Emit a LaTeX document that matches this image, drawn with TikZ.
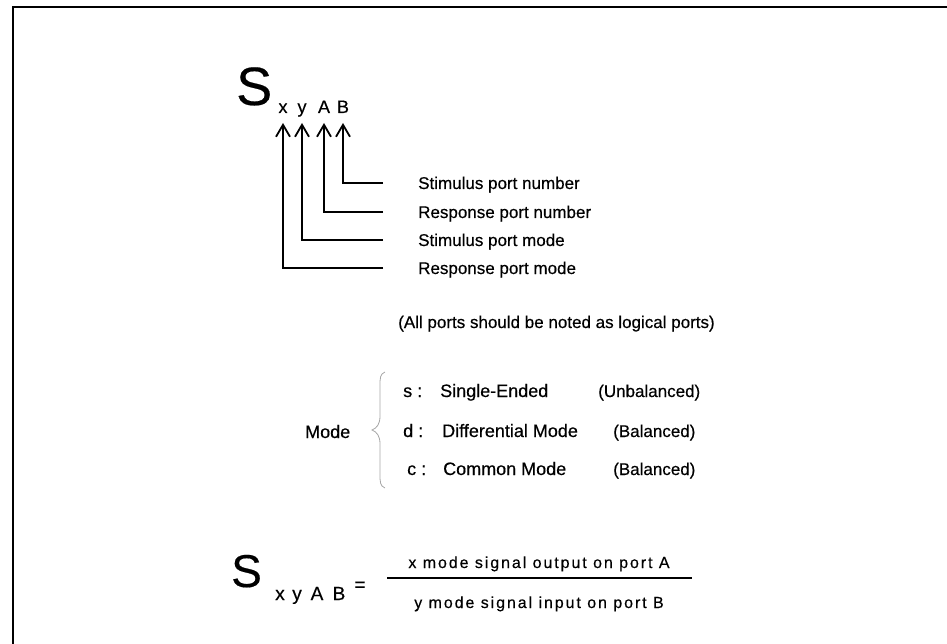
\documentclass[tikz,border=0pt]{standalone}
\usepackage{fontspec}
\setmainfont[FakeBold=0.4]{Liberation Sans}
\newfontfamily\spaced[LetterSpace=12,FakeBold=0.4]{Liberation Sans}
\usetikzlibrary{arrows.meta,positioning}

\begin{document}
\begin{tikzpicture}[
  x=1pt, y=-1pt,
  bigS/.style={inner sep=0, anchor=base west, font=\fontsize{#1}{#1}\selectfont},
  sub/.style={inner sep=0, anchor=base, font=\fontsize{#1}{#1}\selectfont},
  desc/.style={inner sep=0, anchor=west, text height=12pt, text depth=0pt, font=\fontsize{17}{20}\selectfont},
  txt/.style={inner sep=0, anchor=base west, font=\fontsize{#1}{#1}\selectfont},
  frac/.style={inner sep=0, anchor=base, font=\spaced\fontsize{16}{18}\selectfont},
  arrow/.style={-{Straight Barb[length=12pt,width=14pt]}, line width=1.8pt}
]
  \useasboundingbox (0,0) rectangle (947,644);
  \draw[line width=2.5pt] (13,644) -- (13,7) -- (947,7);

  % S parameter name
  \node[bigS=54] (S) at (236,105) {S};
  \node[sub=18] (sx) at (283,113) {x};
  \node[sub=18] (sy) at (302,113) {y};
  \node[sub=18] (sA) at (324,113) {A};
  \node[sub=18] (sB) at (343,113) {B};

  \node[desc] (pB) at (418,183) {Stimulus port number};
  \node[desc] (pA) at (418,212) {Response port number};
  \node[desc] (py) at (418,240) {Stimulus port mode};
  \node[desc] (px) at (418,268) {Response port mode};

  \draw[arrow] ([xshift=-35pt]pB.west) -| ([yshift=-10pt]sB.base);
  \draw[arrow] ([xshift=-35pt]pA.west) -| ([yshift=-10pt]sA.base);
  \draw[arrow] ([xshift=-35pt]py.west) -| ([yshift=-10pt]sy.base);
  \draw[arrow] ([xshift=-35pt]px.west) -| ([yshift=-10pt]sx.base);

  \node[txt=17] (note) at (398,328) {(All ports should be noted as logical ports)};

  % modes
  \node[txt=18] (mode) at (305,438) {Mode};
  \draw[gray!70, line width=0.8pt] (385,372) .. controls (380,374) and (380,378) .. (380,386)
    -- (380,416) .. controls (380,424) and (377,428) .. (372,430)
    .. controls (377,432) and (380,436) .. (380,444) -- (380,474)
    .. controls (380,482) and (380,486) .. (385,488);

  \node[txt=18] (ms) at (403,397) {s :};
  \node[txt=18] (ms2) at (440,397) {Single-Ended};
  \node[txt=17] (ms3) at (598,397) {(Unbalanced)};
  \node[txt=18] (md) at (403,437) {d :};
  \node[txt=18] (md2) at (442,437) {Differential Mode};
  \node[txt=17] (md3) at (613,437) {(Balanced)};
  \node[txt=18] (mc) at (407,475) {c :};
  \node[txt=18] (mc2) at (443,475) {Common Mode};
  \node[txt=17] (mc3) at (613,475) {(Balanced)};

  % definition
  \node[bigS=46] (S2) at (231,587) {S};
  \node[sub=19] (tx) at (280,600) {x};
  \node[sub=19] (ty) at (297,600) {y};
  \node[sub=19] (tA) at (317,600) {A};
  \node[sub=19] (tB) at (339,600) {B};
  \node[sub=19] (eq) at (360,591) {=};
  \node[frac] (num) at (539,568) {x mode signal output on port A};
  \node[frac] (den) at (539,608) {y mode signal input on port B};
  \coordinate (fl) at (387,578);
  \coordinate (fr) at (692,578);
  \draw[line width=2pt] (fl) -- (fr);
\end{tikzpicture}
\end{document}
